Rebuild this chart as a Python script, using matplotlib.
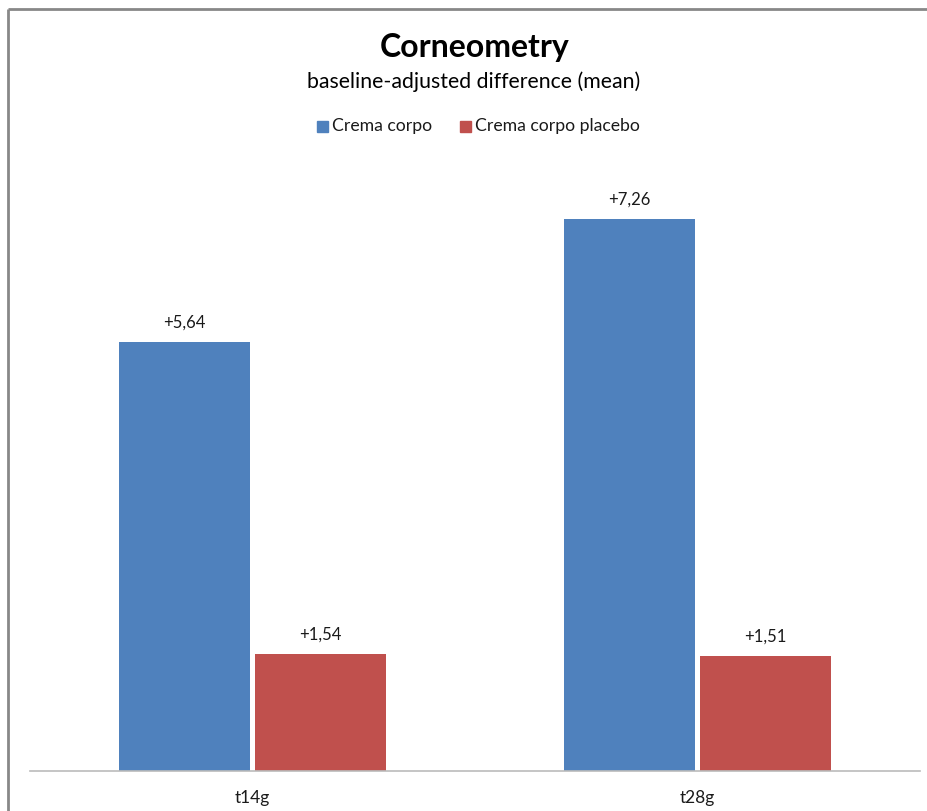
import numpy as np
from matplotlib import pyplot as plt
from matplotlib.lines import Line2D

categories = ["t14g", "t28g"]
series_names = ["Crema corpo", "Crema corpo placebo"]
crema = [5.64, 7.26]
placebo = [1.54, 1.51]

colors = ["#4F81BD", "#C0504D"]

plt.rcParams["font.family"] = ["Lato", "DejaVu Sans"]

W, H = 927, 811
fig = plt.figure(figsize=(W / 100, H / 100), dpi=100)
fig.patch.set_facecolor("white")

# plot area in pixels: x 30..920, y 163..771
ax = fig.add_axes([30 / W, (H - 771) / H, 890 / W, (771 - 163) / H])

x = np.arange(len(categories))
width = 0.294
offset = 0.153
for vals, col, off in [(crema, colors[0], -offset), (placebo, colors[1], offset)]:
    bars = ax.bar(x + off, vals, width, color=col)
    for b, v in zip(bars, vals):
        ax.text(b.get_x() + b.get_width() / 2, v + 0.15, "+" + f"{v:.2f}".replace(".", ","),
                ha="center", va="bottom", fontsize=12, color="#1a1a1a")

ax.set_xlim(-0.5, 1.5)
ax.set_ylim(0, 8)
ax.set_xticks(x)
ax.set_xticklabels(categories, fontsize=12.5, color="#1a1a1a")
ax.tick_params(axis="x", length=0, pad=14)
ax.set_yticks([])
for s in ["top", "right", "left"]:
    ax.spines[s].set_visible(False)
ax.spines["bottom"].set_color("#BBBBBB")
ax.spines["bottom"].set_linewidth(1.2)

fig.text(475 / W, 1 - 47 / H, "Corneometry", ha="center", va="center",
         fontsize=23, fontweight="bold", color="black")
fig.text(474 / W, 1 - 82 / H, "baseline-adjusted difference (mean)", ha="center",
         va="center", fontsize=15.3, color="black")

# legend row
legend_items = [(317, series_names[0], colors[0]), (460, series_names[1], colors[1])]
for px, name, col in legend_items:
    fig.patches.append(plt.Rectangle((px / W, 1 - 132 / H), 11 / W, 11 / H,
                                     transform=fig.transFigure, color=col))
    fig.text((px + 15) / W, 1 - 126 / H, name, ha="left", va="center",
             fontsize=12.7, color="#1a1a1a")

# chart frame (left and top edges)
fig.lines.append(Line2D([8 / W, 8 / W], [0, 1 - 9 / H], transform=fig.transFigure,
                        color="#888888", linewidth=2, solid_capstyle="butt"))
fig.lines.append(Line2D([8 / W, 1.01], [1 - 9 / H, 1 - 9 / H], transform=fig.transFigure,
                        color="#888888", linewidth=2, solid_capstyle="butt"))

fig.savefig("out.png", dpi=100, facecolor="white")
